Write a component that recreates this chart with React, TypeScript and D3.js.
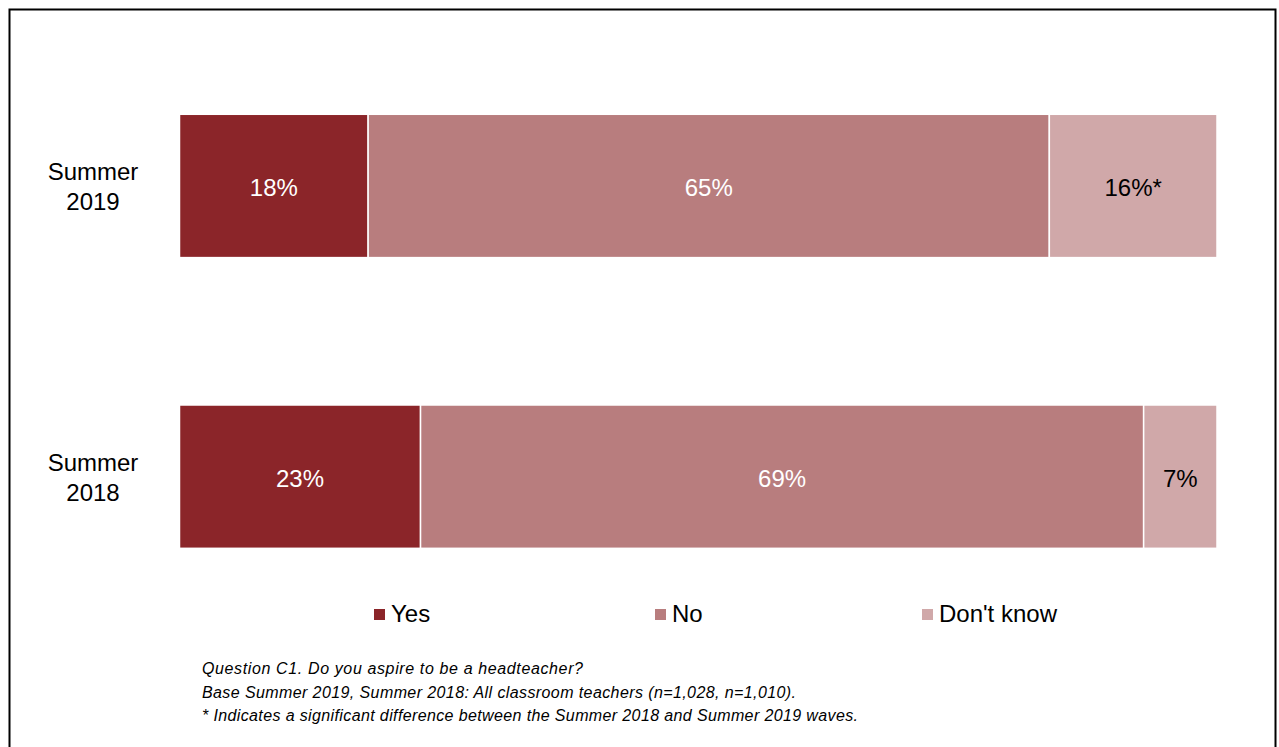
import React from "react";
import * as d3 from "d3";

const categories: string[] = ["Summer 2019", "Summer 2018"];
const seriesNames: string[] = ["Yes", "No", "Don't know"];
const yesValues: number[] = [18, 23];
const noValues: number[] = [65, 69];
const dontKnowValues: number[] = [16, 7];
const labelSuffix: string[][] = [["", "", "*"], ["", "", ""]];
const colors: string[] = ["#8B2529", "#B87D7E", "#D0A8A9"];
const labelColors: string[] = ["#FFFFFF", "#FFFFFF", "#000000"];
const footnotes: string[] = [
  "Question C1. Do you aspire to be a headteacher?",
  "Base Summer 2019, Summer 2018: All classroom teachers (n=1,028, n=1,010).",
  "* Indicates a significant difference between the Summer 2018 and Summer 2019 waves.",
];
const footnoteWidths: number[] = [381, 594, 656];

const W = 1279;
const H = 747;
const FONT = "'Liberation Sans', Arial, Helvetica, sans-serif";

export default function App() {
  const rows = categories.map((c, i) => {
    const vals = [yesValues[i], noValues[i], dontKnowValues[i]];
    const total = d3.sum(vals);
    let acc = 0;
    const segs = vals.map((v, j) => {
      const x0 = acc / total;
      acc += v;
      const x1 = acc / total;
      return { v, x0, x1, j };
    });
    return { c, i, segs };
  });

  const x = d3.scaleLinear().domain([0, 1]).range([179.5, 1217]);
  const y = d3
    .scaleBand<string>()
    .domain(categories)
    .range([41.6, 621])
    .paddingInner(0.507)
    .paddingOuter(0.25);
  const bw = y.bandwidth();

  const legendSquareX = [374, 655, 922];

  return (
    <svg
      width={W}
      height={H}
      style={{ position: "absolute", left: 0, top: 0, background: "#fff" }}
      fontFamily={FONT}
    >
      <rect x={0} y={0} width={W} height={H} fill="#fff" />
      <rect
        x={9.5}
        y={9.5}
        width={1266}
        height={800}
        fill="none"
        stroke="#000"
        strokeWidth={2}
      />
      {rows.map((r) => {
        const y0 = y(r.c) as number;
        const cy = y0 + bw / 2;
        const [l1, l2] = [r.c.split(" ")[0], r.c.split(" ")[1]];
        return (
          <g key={r.c}>
            {r.segs.map((s) => (
              <g key={s.j}>
                <rect
                  x={x(s.x0)}
                  y={y0}
                  width={x(s.x1) - x(s.x0)}
                  height={bw}
                  fill={colors[s.j]}
                  stroke="#fff"
                  strokeWidth={1.5}
                />
                <text
                  x={(x(s.x0) + x(s.x1)) / 2}
                  y={cy + 10}
                  textAnchor="middle"
                  fontSize={24}
                  fill={labelColors[s.j]}
                >
                  {`${s.v}%${labelSuffix[r.i][s.j]}`}
                </text>
              </g>
            ))}
            <text x={93} y={cy - 6} textAnchor="middle" fontSize={24} fill="#000">
              {l1}
            </text>
            <text x={93} y={cy + 24.5} textAnchor="middle" fontSize={24} fill="#000">
              {l2}
            </text>
          </g>
        );
      })}
      {seriesNames.map((n, j) => (
        <g key={n}>
          <rect x={legendSquareX[j]} y={609} width={11} height={11} fill={colors[j]} />
          <text x={legendSquareX[j] + 17} y={622} fontSize={24} fill="#000">
            {n}
          </text>
        </g>
      ))}
      {footnotes.map((f, i) => (
        <text
          key={i}
          x={202}
          y={674 + i * 23.5}
          fontSize={16}
          fontStyle="italic"
          fill="#000"
          textLength={footnoteWidths[i]}
          lengthAdjust="spacing"
        >
          {f}
        </text>
      ))}
    </svg>
  );
}
